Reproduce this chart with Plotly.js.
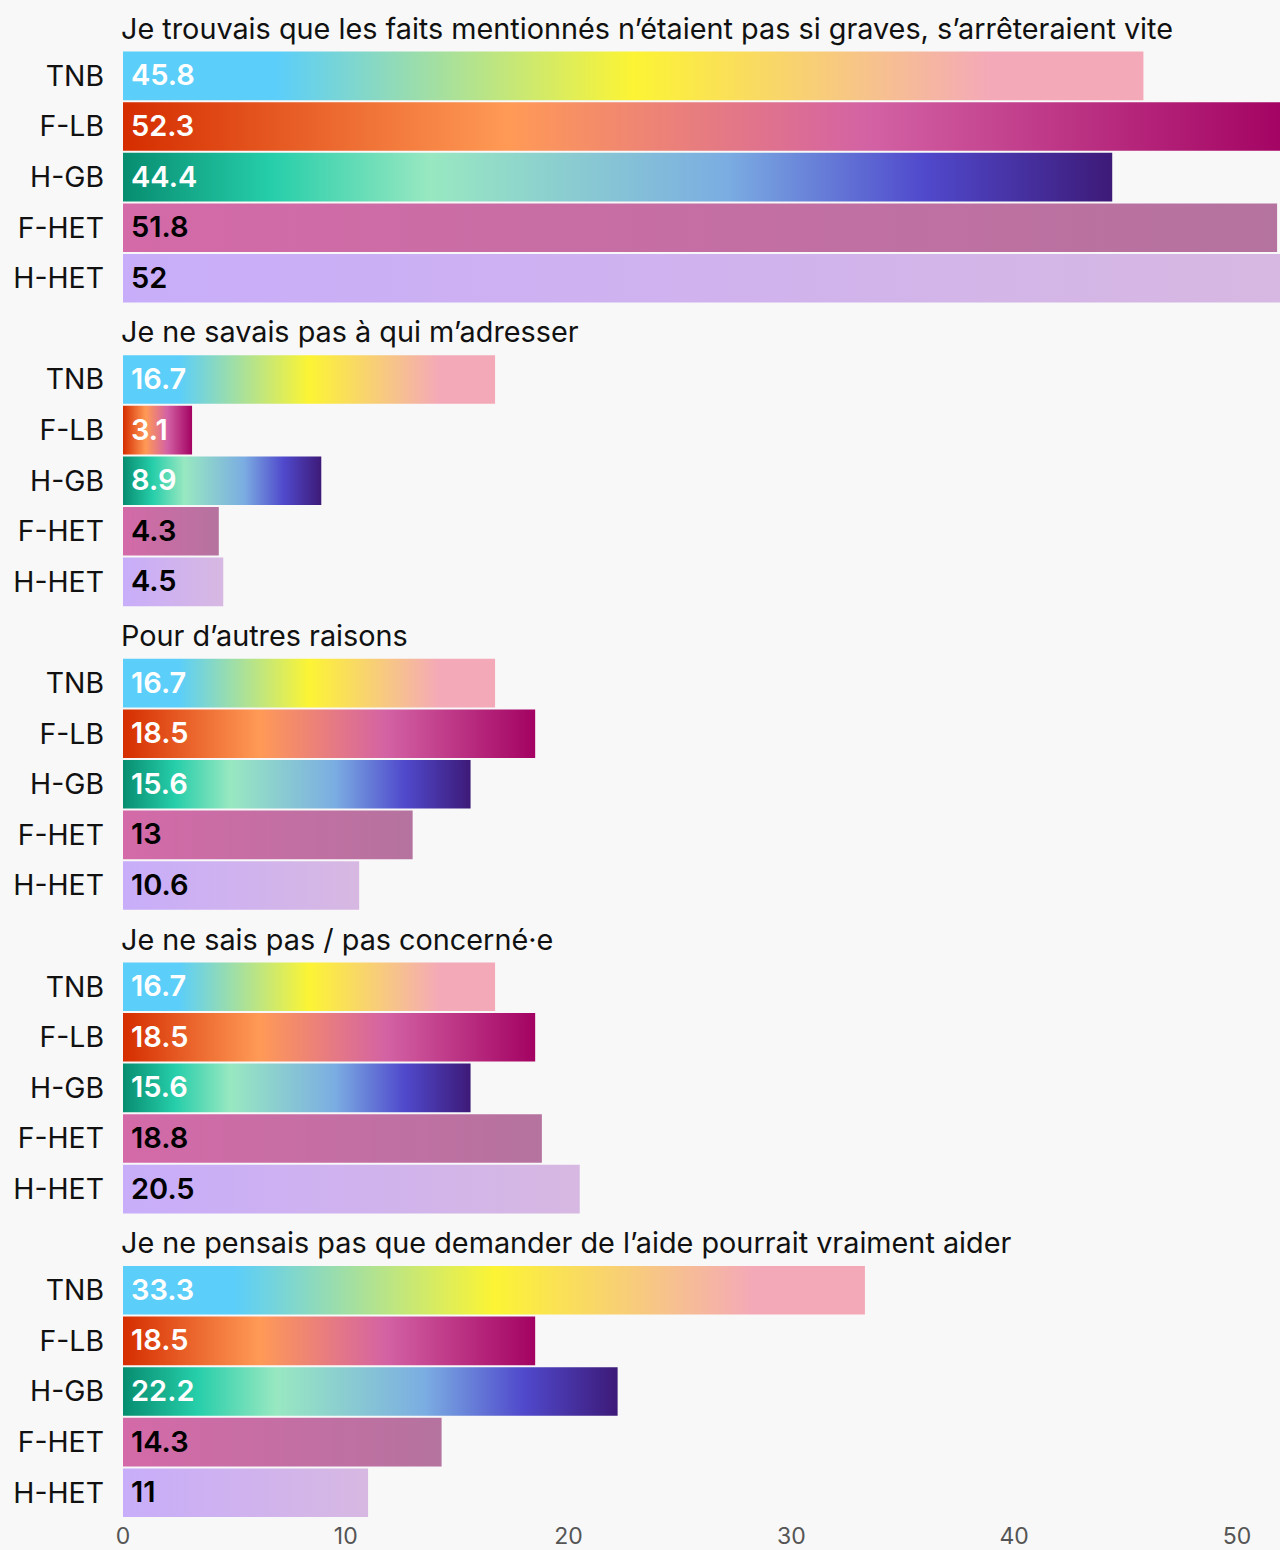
<!DOCTYPE html>
<html>
<head>
<meta charset="utf-8">
<script src="https://cdn.plot.ly/plotly-3.0.1.min.js"></script>
<style>html,body{margin:0;padding:0;background:#f8f8f8;}#chart{width:1280px;height:1550px;}</style>
</head>
<body>
<div id="chart"></div>
<script>
// ---- data ----
const groupTitles = [
  "Je trouvais que les faits mentionnés n’étaient pas si graves, s’arrêteraient vite",
  "Je ne savais pas à qui m’adresser",
  "Pour d’autres raisons",
  "Je ne sais pas / pas concerné·e",
  "Je ne pensais pas que demander de l’aide pourrait vraiment aider"
];
const categories = ["TNB", "F-LB", "H-GB", "F-HET", "H-HET"];
const tnb  = [45.8, 16.7, 16.7, 16.7, 33.3];
const flb  = [52.3, 3.1, 18.5, 18.5, 18.5];
const hgb  = [44.4, 8.9, 15.6, 15.6, 22.2];
const fhet = [51.8, 4.3, 13, 18.8, 14.3];
const hhet = [52, 4.5, 10.6, 20.5, 11];
const xTicks = [0, 10, 20, 30, 40, 50];

// ---- styles ----
const series = [tnb, flb, hgb, fhet, hhet];
const scales = [
  [[0, "#5bcefa"], [0.15, "#5bcefa"], [0.5, "#fcf434"], [0.85, "#f4a9b8"], [1, "#f4a9b8"]],
  [[0, "#d52d00"], [0.33, "#ff9a56"], [0.64, "#d362a4"], [1, "#a30262"]],
  [[0, "#078d70"], [0.15, "#26ceaa"], [0.31, "#98e8c1"], [0.61, "#7bade2"], [0.81, "#5049cc"], [1, "#3d1a78"]],
  [[0, "#d46aa8"], [1, "#b5739f"]],
  [[0, "#c8adfa"], [1, "#d7b8e2"]]
];
const labelColors = ["#ffffff", "#ffffff", "#ffffff", "#000000", "#000000"];
const FONT = "Inter, 'Noto Sans', sans-serif";
const half = 0.48;
const perGroup = categories.length + 1;

const traces = [];
const annotations = [];
const tickvals = [];
const ticktext = [];

groupTitles.forEach((title, g) => {
  const base = g * perGroup;
  annotations.push({
    x: 0, y: base, xref: "x", yref: "y", xanchor: "left", yanchor: "middle",
    xshift: -4, yshift: -3, showarrow: false, text: title,
    font: {family: FONT, size: 28.8, color: "#111"}
  });
  categories.forEach((cat, i) => {
    const slot = base + 1 + i;
    const v = series[i][g];
    tickvals.push(slot);
    ticktext.push(cat);
    traces.push({
      type: "scatter", mode: "none",
      x: [0, v, v, 0, 0],
      y: [slot - half, slot - half, slot + half, slot + half, slot - half],
      fill: "toself",
      fillcolor: scales[i][0][1],
      fillgradient: {type: "horizontal", colorscale: scales[i]},
      hoverinfo: "skip", showlegend: false
    });
    annotations.push({
      x: 0, y: slot, xref: "x", yref: "y", xanchor: "left", yanchor: "middle",
      xshift: 6, yshift: 1, showarrow: false, text: String(v),
      font: {family: FONT, size: 29, color: labelColors[i], weight: 600}
    });
  });
});

const layout = {
  width: 1280, height: 1550,
  margin: {l: 123, r: 0, t: 0, b: 32, pad: 0},
  paper_bgcolor: "#f8f8f8", plot_bgcolor: "#f8f8f8",
  showlegend: false,
  xaxis: {
    range: [0, 51.93], tickvals: xTicks, ticktext: xTicks.map(String),
    showgrid: false, zeroline: false, showline: false, ticks: "",
    ticklabelstandoff: 2,
    tickfont: {family: FONT, size: 23, color: "#555"}, fixedrange: true
  },
  yaxis: {
    range: [groupTitles.length * perGroup - 0.5, -0.5],
    tickvals: tickvals, ticktext: ticktext,
    showgrid: false, zeroline: false, showline: false, ticks: "",
    ticklabelstandoff: 18,
    tickfont: {family: FONT, size: 28.4, color: "#111"}, fixedrange: true
  },
  annotations: annotations
};

Plotly.newPlot("chart", traces, layout, {displayModeBar: false, staticPlot: true});
</script>
</body>
</html>
